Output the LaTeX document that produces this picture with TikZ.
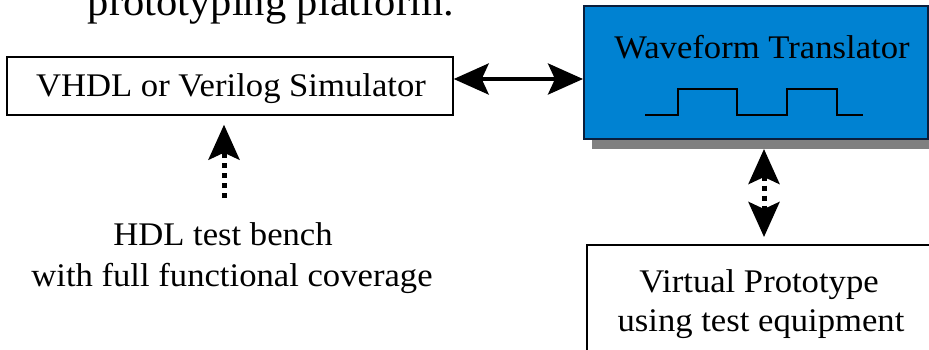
\documentclass[tikz,border=0pt]{standalone}
\usepackage{fontspec}
\setmainfont[FakeStretch=1.05]{Liberation Serif}
\usetikzlibrary{arrows.meta}

\definecolor{wtblue}{RGB}{0,130,210}
\definecolor{wtedge}{RGB}{10,30,60}
\definecolor{shadowgray}{RGB}{128,128,128}

\tikzset{
  txt/.style={anchor=base, inner sep=0pt, font=\fontsize{33}{40}\selectfont},
  titletxt/.style={anchor=base, inner sep=0pt, font=\fontsize{40.5}{46}\selectfont},
  plainbox/.style={draw=black, line width=1.4pt, fill=white, rectangle, inner sep=0pt},
  bluebox/.style={draw=wtedge, line width=2pt, fill=wtblue, rectangle, inner sep=0pt},
  bigtip/.tip={Stealth[length=35pt, width=31pt, inset=7pt]},
  solidlink/.style={line width=4pt, {bigtip}-{bigtip}},
  dotlink/.style={line width=5pt, dash pattern=on 5pt off 5pt},
}

\begin{document}
\begin{tikzpicture}[x=1pt, y=-1pt]
  \clip (0,0) rectangle (929,349);
  \fill[white] (0,0) rectangle (929,349);

  % caption text above (partly cut off by the frame)
  \node[titletxt] (title) at (271,15) {prototyping platform.};

  % simulator box
  \node[plainbox, minimum width=446pt, minimum height=58pt] (sim) at (230,86) {};
  \node[txt] (simtxt) at (231,96) {VHDL or Verilog Simulator};

  % waveform translator with drop shadow
  \fill[shadowgray] (592,14) rectangle (940,149);
  \node[bluebox, minimum width=344pt, minimum height=133pt] (wt) at (756,72.5) {};
  \node[txt] (wttxt) at (762,58) {Waveform Translator};
  \draw[line width=2.2pt] (645,115) -- (678,115) -- (678,89) -- (737,89)
        -- (737,115) -- (787,115) -- (787,89) -- (837,89) -- (837,115) -- (863,115);

  % virtual prototype box
  \node[plainbox, minimum width=348pt, minimum height=130pt] (vp) at (761,310) {};
  \node[txt] (vptxt1) at (759,292) {Virtual Prototype};
  \node[txt] (vptxt2) at (761,331) {using test equipment};

  % test bench caption
  \node[txt] (hdl1) at (223,245) {HDL test bench};
  \node[txt] (hdl2) at (232,286) {with full functional coverage};

  % connectors
  \draw[solidlink] (sim.east |- 0,79) -- (wt.west |- 0,79);

  \coordinate (tbtop) at (224,198);
  \draw[dotlink, -{bigtip}, shorten >=9pt] (tbtop) -- (tbtop |- sim.south);

  \coordinate (wtport) at (764,139);
  \coordinate (vpport) at (764,245);
  \draw[dotlink, {bigtip}-{bigtip}, shorten <=10pt, shorten >=8pt]
        (wtport) -- (vpport);
\end{tikzpicture}
\end{document}
